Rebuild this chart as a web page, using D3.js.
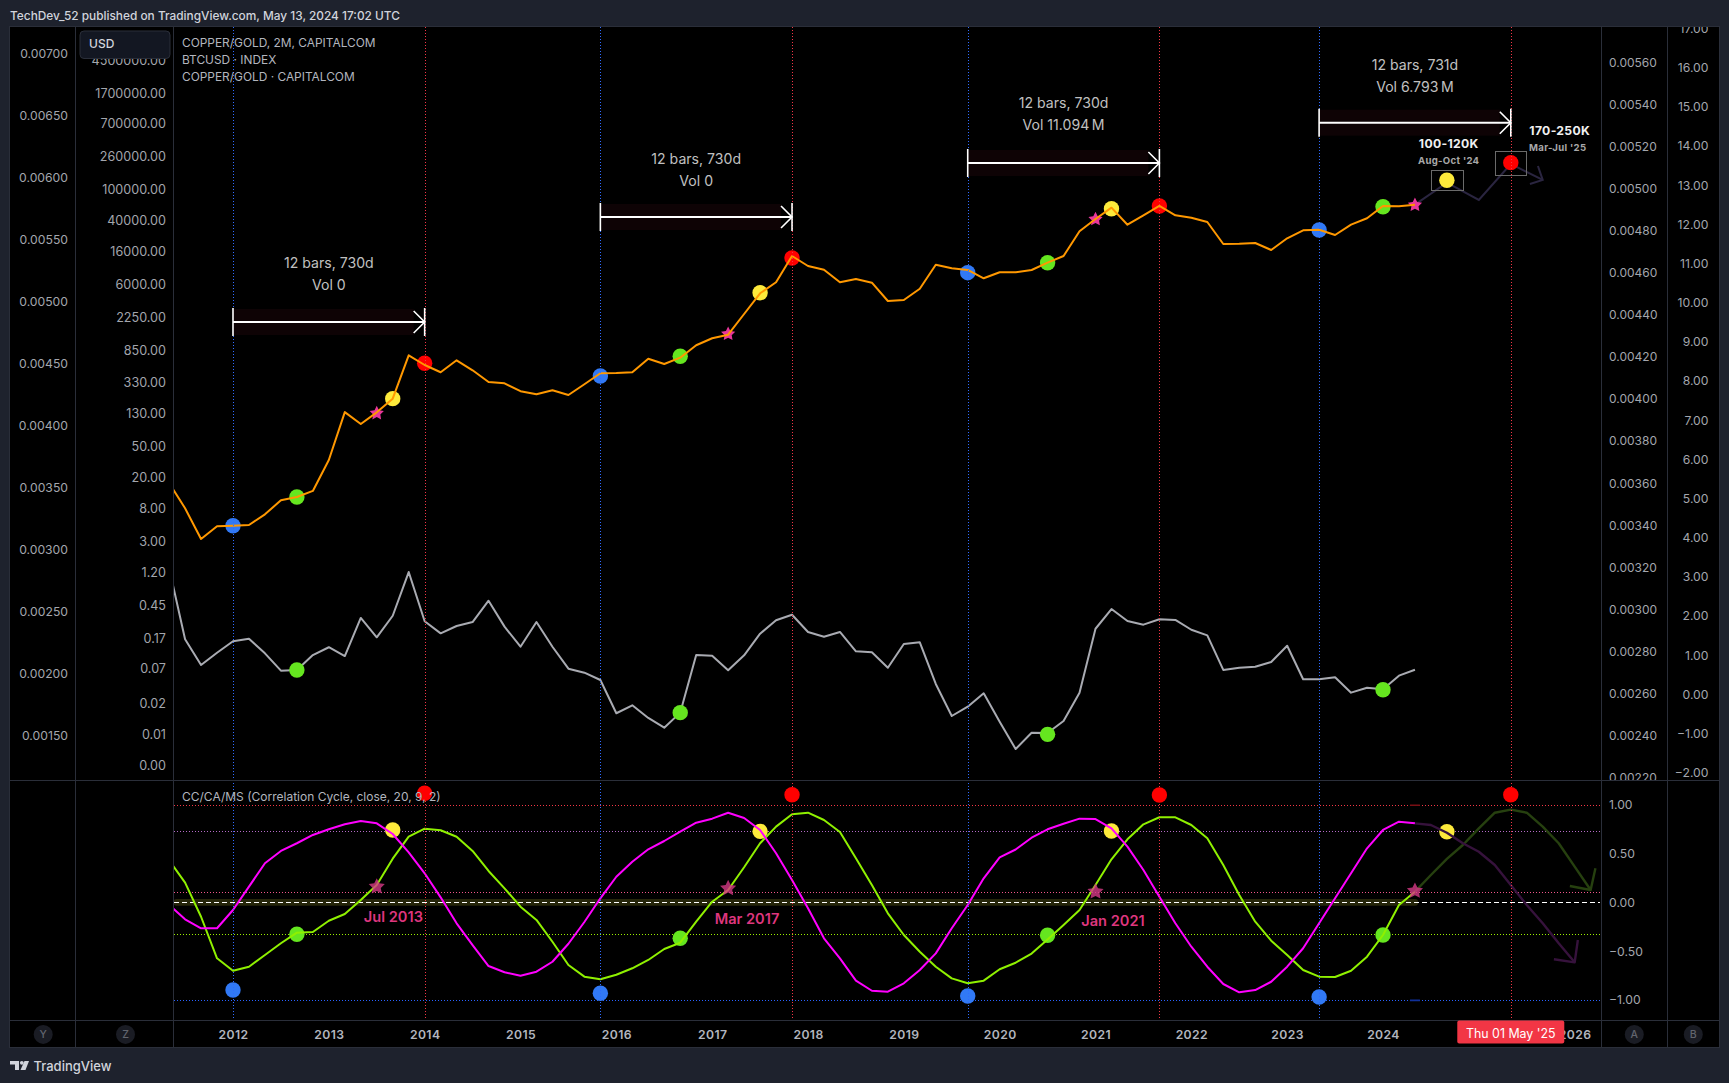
<!DOCTYPE html>
<html><head><meta charset="utf-8">
<script src="https://cdn.jsdelivr.net/npm/d3@7/dist/d3.min.js"></script>
<style>
html,body{margin:0;padding:0;background:#1e222d;overflow:hidden}
text{font-family:Inter,"Noto Sans",sans-serif}
</style></head><body><div id="chart"></div>
<script>
// ---- data (bar index: one bar = two months, 0 = Jan 2012) ----
const firstBar = -4;
const btcusd = [16.8,7.96,3.21,4.67,
 4.75,4.85,6.66,10.08,11.1,13.3,33.2,137,96.3,136,204,735,
 552,445,634,472,334,321,254,232,261,227,312,432,
 436,445,665,568,685,989,1216,1353,2495,4603,6376,13880,
 10325,9255,6376,7028,6300,3666,3776,5274,10730,9645,9173,7175,
 8570,8570,9173,11380,13880,28820,41480,57940,35030,46270,60930,46270,
 43100,37950,19800,19970,20390,16580,23430,29690,30220,25840,35030,42340,
 60930,60390,63320];
const copperGold = [.002853,.002278,.002071,.002170,
 .002262,.002283,.002165,.002025,.002031,.002151,.002214,.002143,.002450,.002294,.002468,.002820,
 .002423,.002326,.002385,.002417,.002589,.002380,.002218,.002417,.002218,.002041,.002009,.001950,
 .001682,.001746,.001644,.001566,.001687,.002151,.002146,.002028,.002149,.002323,.002431,.002476,
 .002337,.002299,.002337,.002181,.002173,.002049,.002240,.002254,.001918,.001660,.001735,.001843,
 .001614,.001394,.001525,.001523,.001620,.001848,.002363,.002522,.002425,.002396,.002439,.002434,
 .002355,.002310,.002031,.002049,.002057,.002095,.002226,.001956,.001956,.001972,.001848,.001888,
 .001875,.001985,.002033];
const ccLine = [.430,.201,-.148,-.574,
 -.701,-.660,-.540,-.420,-.311,-.304,-.189,-.120,.024,.177,.447,.672,
 .754,.738,.672,.526,.321,.143,-.045,-.181,-.404,-.642,-.762,-.789,
 -.742,-.676,-.591,-.478,-.414,-.199,.006,.126,.359,.605,.775,.902,
 .918,.843,.720,.451,.177,-.113,-.335,-.506,-.660,-.779,-.830,-.803,
 -.686,-.619,-.525,-.381,-.233,-.079,.177,.441,.645,.799,.871,.871,
 .792,.656,.382,.075,-.199,-.393,-.540,-.694,-.762,-.765,-.701,-.557,
 -.335,-.028,.109];
const caLine = [-.026,-.174,-.266,-.266,
 -.079,.160,.400,.526,.605,.690,.748,.799,.833,.809,.700,.512,
 .297,.051,-.215,-.438,-.653,-.717,-.752,-.711,-.609,-.425,-.202,.041,
 .262,.416,.543,.628,.723,.816,.857,.918,.864,.741,.502,.228,
 -.061,-.369,-.574,-.803,-.906,-.916,-.830,-.694,-.523,-.266,-.028,.246,
 .461,.541,.662,.748,.805,.857,.853,.758,.570,.331,.057,-.215,
 -.455,-.660,-.837,-.922,-.899,-.814,-.660,-.471,-.215,.041,.297,.553,
 .741,.826,.809];
// projected paths: [bar, value]
const btcProjection = [[74,63320],[76,121400],[78,72780],[80,211100],[82,131500]];
const btcArrowArms = [[[81.7,198900],[82,131500],[81.2,116800]]];
const ccProjection = [[74,.109],[75,.280],[76,.444],[77,.587],[78,.758],[79,.918],[80,.949],[81,.918],[82,.775],[83,.605],[84,.365],[85,.126]];
const ccArrow = [[85.3,.348],[85,.126],[83.7,.167]];
const caProjection = [[74,.809],[75,.792],[76,.713],[77,.605],[78,.518],[79,.382],[80,.177],[81,-.028],[82,-.215],[83,-.420],[84,-.615]];
const caArrow = [[84.2,-.386],[84,-.615],[82.7,-.584]];
// cycle bars
const blueBars = [0,23,46,68];
const redBars = [12,35,58,80];
// dots: [bar, value]
const btcBlue = [[0,4.75],[23,399],[46,8470],[68,29950]];
const btcGreen = [[4,11.1],[28,714],[51,11380],[72,59680]];
const btcYellow = [[10,204],[33,4687],[55,56250],[76,130300]];
const btcRed = [[12,580],[35,13080],[58,60930],[80,219400]];
const btcStars = [[9,132],[31,1381],[54,41110],[74,62750]];
const cgGreen = [[4,.002031],[28,.001687],[51,.001512],[72,.001872]];
const oscRed = [[12,1.117],[35,1.102],[58,1.099],[80,1.102]];
const oscYellow = [[10,.741],[33,.727],[55,.730],[76,.723]];
const oscGreen = [[4,-.328],[28,-.369],[51,-.338],[72,-.335]];
const oscBlue = [[0,-.899],[23,-.932],[46,-.960],[68,-.970]];
const oscStars = [[9,.160],[31,.143],[54,.109],[74,.116]];
const oscStarLabels = [[9,"Jul 2013",393.4,917],[31,"Mar 2017",747,919],[54,"Jan 2021",1113,921]];
// axes
const yearTicks = [0,6,12,18,24,30,36,42,48,54,60,66,72,84];
const yearLabels = ["2012","2013","2014","2015","2016","2017","2018","2019","2020","2021","2022","2023","2024","2026"];
const cgTicks = [.007,.0065,.006,.0055,.005,.0045,.004,.0035,.003,.0025,.002,.0015];
const btcTicks = [4500000,1700000,700000,260000,100000,40000,16000,6000,2250,850,330,130,50,20,8,3,1.2,.45,.17,.07,.0246,.0098,.004];
const rightTicksA = [.0056,.0054,.0052,.005,.0048,.0046,.0044,.0042,.004,.0038,.0036,.0034,.0032,.003,.0028,.0026,.0024,.0022];
const rightTicksB = [17,16,15,14,13,12,11,10,9,8,7,6,5,4,3,2,1,0,-1,-2];
const oscTicks = [1,.5,0,-.5,-1];
const oscLevels = [[1,"#f23645"],[.727,"#b26ac6"],[.109,"#f0558a"],[-.328,"#9bf000"],[-1,"#2962ff"]];
// rulers: [fromBar, toBar, lines]
const rulers = [
 {a:0,b:12,vy:322,t:["12 bars, 730d","Vol 0"],ty:[263.3,285]},
 {a:23,b:35,vy:217,t:["12 bars, 730d","Vol 0"],ty:[159,181]},
 {a:46,b:58,vy:163,t:["12 bars, 730d","Vol 11.094\u2009M"],ty:[103.3,125.4]},
 {a:68,b:80,vy:122.7,t:["12 bars, 731d","Vol 6.793\u2009M"],ty:[64.7,87.3]}];

// ---- layout ----
const W=1729,H=1083, L=10,R=1719,T=27,B=1047, colA=75.5,colB=173.5,colC=1601.5,colD=1667.5, paneY=780.5,timeY=1020.5;
const svg=d3.select("#chart").append("svg").attr("width",W).attr("height",H).style("display","block");
const defs=svg.append("defs");
defs.append("clipPath").attr("id","cm").append("rect").attr("x",colB).attr("y",T).attr("width",colC-colB).attr("height",paneY-T);
defs.append("clipPath").attr("id","co").append("rect").attr("x",colB).attr("y",paneY).attr("width",colC-colB).attr("height",timeY-paneY);
defs.append("clipPath").attr("id","ca").append("rect").attr("x",L).attr("y",T).attr("width",R-L).attr("height",paneY-T);

const x=d3.scaleLinear().domain([0,72]).range([233,1383]);
const yBtc=d3.scaleLog().domain([1,1e6]).range([578.4,111.4]);
const yCg=d3.scaleLinear().domain([.0015,.007]).range([735.85,53.3]);
const yR1=d3.scaleLinear().domain([.0022,.0056]).range([777.5,62.7]);
const yR2=d3.scaleLinear().domain([-2,16]).range([772.7,67.7]);
const yOsc=d3.scaleLinear().domain([-1,1]).range([999.9,804.7]);

svg.append("rect").attr("width",W).attr("height",H).attr("fill","#1e222d");
svg.append("rect").attr("x",L).attr("y",T).attr("width",R-L).attr("height",B-T).attr("fill","#000");

const indexed=a=>a.map((v,k)=>[k+firstBar,v]);
const mk=y=>d3.line().x(d=>x(d[0])).y(d=>y(d[1]));
const main=svg.append("g").attr("clip-path","url(#cm)");
const osc=svg.append("g").attr("clip-path","url(#co)");

// vertical cycle lines
[[blueBars,"#2f6bff"],[redBars,"#f23645"]].forEach(([bars,c])=>{
  svg.append("g").selectAll("line").data(bars).join("line")
   .attr("x1",d=>Math.round(x(d))+.5).attr("x2",d=>Math.round(x(d))+.5).attr("y1",T).attr("y2",timeY)
   .attr("stroke",c).attr("stroke-width",1).attr("stroke-dasharray","1 2").attr("shape-rendering","crispEdges");
});

// rulers
rulers.forEach(r=>{
  const x0=x(r.a),x1=x(r.b),y=r.vy,g=svg.append("g");
  g.append("rect").attr("x",x0).attr("y",y-13).attr("width",x1-x0-11).attr("height",26).attr("fill","#0e0305");
  g.append("line").attr("x1",x0).attr("x2",x1).attr("y1",y).attr("y2",y).attr("stroke","#fff").attr("stroke-width",2);
  [x0,x1].forEach(px=>g.append("line").attr("x1",px).attr("x2",px).attr("y1",y-14).attr("y2",y+14).attr("stroke","#fff").attr("stroke-width",1.6));
  g.append("path").attr("d",`M${x1-11},${y-11}L${x1},${y}L${x1-11},${y+11}`).attr("fill","none").attr("stroke","#fff").attr("stroke-width",1.6);
  r.t.forEach((s,k)=>g.append("text").attr("x",(x0+x1)/2).attr("y",r.ty[k]).attr("dy",".36em").attr("text-anchor","middle").attr("fill","#c0c0c0").attr("font-size",14.1).text(s));
});

// annotation boxes
[[1431.5,170.5,32,20],[1495.5,151.5,31,24]].forEach(b=>svg.append("rect").attr("x",b[0]).attr("y",b[1]).attr("width",b[2]).attr("height",b[3]).attr("fill","none").attr("stroke","#6a6a6a"));

// main pane series
const dots=(g,data,y,c,r=7.7)=>g.append("g").selectAll("circle").data(data).join("circle").attr("cx",d=>x(d[0])).attr("cy",d=>y(d[1])).attr("r",r).attr("fill",c);
const starType={draw(ctx,size){const R0=Math.sqrt(size);for(let k=0;k<10;k++){const r=k%2?R0*.5:R0,a=-Math.PI/2+k*Math.PI/5,px=r*Math.cos(a),py=r*Math.sin(a);k?ctx.lineTo(px,py):ctx.moveTo(px,py);}ctx.closePath();}};
const stars=(g,data,y,c,size,op=1)=>g.append("g").selectAll("path").data(data).join("path").attr("d",d3.symbol(starType,size)()).attr("transform",d=>`translate(${x(d[0])},${y(d[1])})`).attr("fill",c).attr("opacity",op);

main.append("path").datum(indexed(copperGold)).attr("d",mk(yCg)).attr("fill","none").attr("stroke","#a9abb2").attr("stroke-width",2).attr("stroke-linejoin","round");
dots(main,cgGreen,yCg,"#65e61f");
main.append("path").datum(btcProjection).attr("d",mk(yBtc)).attr("fill","none").attr("stroke","#2a2540").attr("stroke-width",2);
btcArrowArms.forEach(a=>main.append("path").datum(a).attr("d",mk(yBtc)).attr("fill","none").attr("stroke","#2a2540").attr("stroke-width",2));
dots(main,btcBlue,yBtc,"#3179f5");
dots(main,btcGreen,yBtc,"#65e61f");
dots(main,btcYellow,yBtc,"#fdea3b");
dots(main,btcRed,yBtc,"#ff0000");
stars(main,btcStars,yBtc,"#e8369a",56);
main.append("path").datum(indexed(btcusd)).attr("d",mk(yBtc)).attr("fill","none").attr("stroke","#ff9800").attr("stroke-width",2).attr("stroke-linejoin","round");

// oscillator pane
osc.append("rect").attr("x",colB).attr("y",yOsc(.035)).attr("width",x(74.2)-colB).attr("height",yOsc(-.035)-yOsc(.035)).attr("rx",3).attr("fill","#26260a");
osc.selectAll("line.lv").data(oscLevels).join("line").attr("class","lv").attr("x1",colB).attr("x2",colC).attr("y1",d=>Math.round(yOsc(d[0]))+.5).attr("y2",d=>Math.round(yOsc(d[0]))+.5).attr("stroke",d=>d[1]).attr("stroke-width",1).attr("stroke-dasharray","1 2").attr("shape-rendering","crispEdges");
osc.append("line").attr("x1",colB).attr("x2",colC-2).attr("y1",Math.round(yOsc(0))+.5).attr("y2",Math.round(yOsc(0))+.5).attr("stroke","#fff").attr("stroke-width",1).attr("stroke-dasharray","5 3").attr("shape-rendering","crispEdges");
[[1,"#7a0f14"],[-1,"#10309a"]].forEach(d=>osc.append("line").attr("x1",x(74)-5).attr("x2",x(74)+5).attr("y1",yOsc(d[0])+.5).attr("y2",yOsc(d[0])+.5).attr("stroke",d[1]).attr("stroke-width",1.6));

dots(osc,oscYellow,yOsc,"#fdea3b");
dots(osc,oscGreen,yOsc,"#65e61f");
dots(osc,oscBlue,yOsc,"#3179f5");
const ccC="#8ff000",caC="#ff00ff";
osc.append("path").datum(indexed(ccLine)).attr("d",mk(yOsc)).attr("fill","none").attr("stroke",ccC).attr("stroke-width",2).attr("stroke-linejoin","round");
osc.append("path").datum(indexed(caLine)).attr("d",mk(yOsc)).attr("fill","none").attr("stroke",caC).attr("stroke-width",2).attr("stroke-linejoin","round");
[[ccProjection,"#26400f"],[ccArrow,"#26400f"],[caProjection,"#36123c"],[caArrow,"#36123c"]].forEach(([d,c])=>
  osc.append("path").datum(d).attr("d",mk(yOsc)).attr("fill","none").attr("stroke",c).attr("stroke-width",2.4).attr("stroke-linejoin","round"));
dots(svg,oscRed,yOsc,"#ff0000");
stars(osc,oscStars,yOsc,"#d63a86",72,.8);
oscStarLabels.forEach(d=>osc.append("text").attr("x",d[2]).attr("y",d[3]).attr("dy",".36em").attr("text-anchor","middle").attr("font-size",14.6).attr("font-weight",600).attr("fill","#de367e").text(d[1]));

// axes
const styleAxis=(g,size=12.2)=>{g.select(".domain").remove();g.selectAll(".tick line").remove();g.selectAll("text").attr("fill","#a3a6ad").attr("font-size",size).style("font-family","Inter,sans-serif");};
const minus=s=>s.replace("-","\u2212");
svg.append("g").attr("transform",`translate(68,0)`).call(d3.axisLeft(yCg).tickValues(cgTicks).tickSize(0).tickPadding(0).tickFormat(d3.format(".5f"))).call(styleAxis);
svg.append("g").attr("transform",`translate(166,0)`).call(d3.axisLeft(yBtc).tickValues(btcTicks).tickSize(0).tickPadding(0).tickFormat(d3.format(".2f"))).call(g=>styleAxis(g,12.6));
svg.append("g").attr("clip-path","url(#ca)").append("g").attr("transform",`translate(1609,0)`).call(d3.axisRight(yR1).tickValues(rightTicksA).tickSize(0).tickPadding(0).tickFormat(d3.format(".5f"))).call(g=>styleAxis(g,12));
svg.append("g").attr("clip-path","url(#ca)").append("g").attr("transform",`translate(1708.5,0)`).call(d3.axisLeft(yR2).tickValues(rightTicksB).tickSize(0).tickPadding(0).tickFormat(d=>minus(d3.format(".2f")(d)))).call(styleAxis);
svg.append("g").attr("transform",`translate(1609,0)`).call(d3.axisRight(yOsc).tickValues(oscTicks).tickSize(0).tickPadding(0).tickFormat(d=>minus(d3.format(".2f")(d)))).call(styleAxis);
const tAxis=svg.append("g").attr("transform",`translate(0,${timeY+10})`).call(d3.axisBottom(x).tickValues(yearTicks).tickSize(0).tickPadding(0).tickFormat((d,k)=>yearLabels[k])).call(styleAxis);
tAxis.selectAll("text").attr("fill","#b2b5be").attr("font-weight",600).attr("letter-spacing",".4px");

// pane separators
const sep="#2a2e39";
[[colA,T,colA,B],[colB,T,colB,B],[colC,T,colC,B],[colD,T,colD,B],[L,paneY,R,paneY],[L,timeY,R,timeY]].forEach(s=>
  svg.append("line").attr("x1",s[0]).attr("y1",s[1]).attr("x2",s[2]).attr("y2",s[3]).attr("stroke",sep));
svg.append("rect").attr("x",L-.5).attr("y",T-.5).attr("width",R-L+1).attr("height",B-T+1).attr("fill","none").attr("stroke","#2a2e39");

// time tag
svg.append("rect").attr("x",x(80)-53.5).attr("y",timeY).attr("width",107).attr("height",23).attr("rx",2).attr("fill","#f23645");
svg.append("text").attr("x",x(80)).attr("y",1033.5).attr("dy",".36em").attr("text-anchor","middle").attr("fill","#fff").attr("font-size",12.4).text("Thu 01 May '25");

// scale buttons
[["Y",43.2],["Z",125.5],["A",1634.3],["B",1693.3]].forEach(d=>{
  svg.append("circle").attr("cx",d[1]).attr("cy",1034.4).attr("r",9.5).attr("fill","#1a1c24");
  svg.append("text").attr("x",d[1]).attr("y",1034.4).attr("dy",".36em").attr("text-anchor","middle").attr("font-size",10.5).attr("font-weight",500).attr("fill","#62656e").text(d[0]);
});

// USD button
svg.append("rect").attr("x",80).attr("y",31).attr("width",90).attr("height",27.5).attr("rx",4).attr("fill","#131722").attr("stroke","#2a2e39");
svg.append("text").attr("x",89).attr("y",43.7).attr("dy",".36em").attr("font-size",12).attr("font-weight",500).attr("fill","#d1d4dc").text("USD");

// legends
["COPPER/GOLD, 2M, CAPITALCOM","BTCUSD \u00b7 INDEX","COPPER/GOLD \u00b7 CAPITALCOM"].forEach((s,k)=>
 svg.append("text").attr("x",182).attr("y",42.5+17*k).attr("dy",".36em").attr("font-size",11.9).attr("fill","#b2b5be").text(s));
svg.append("text").attr("x",182).attr("y",796.7).attr("dy",".36em").attr("font-size",12).attr("fill","#b2b5be").text("CC/CA/MS (Correlation Cycle, close, 20, 9, 2)");

// target notes
[["100-120K",1448.7,144,12.2,700,"#f0f0f0"],["Aug-Oct '24",1448.7,160.7,9.6,700,"#a8a8a8"],["170-250K",1559.7,130.7,12.2,700,"#f0f0f0"],["Mar-Jul '25",1557.7,147.3,9.6,700,"#a8a8a8"]].forEach(d=>
 svg.append("text").attr("x",d[1]).attr("y",d[2]).attr("dy",".36em").attr("text-anchor","middle").attr("font-size",d[3]).attr("font-weight",d[4]).attr("letter-spacing",".3px").attr("fill",d[5]).text(d[0]));

// header and footer
svg.append("text").attr("x",10).attr("y",15.7).attr("dy",".36em").attr("font-size",11.87).attr("font-weight",500).attr("fill","#d1d4dc").text("TechDev_52 published on TradingView.com, May 13, 2024 17:02 UTC");
const logo=svg.append("g").attr("fill","#d1d4dc");
logo.append("path").attr("d","M10,1061H19V1070H15V1064.5H10Z");
logo.append("circle").attr("cx",21.8).attr("cy",1062.8).attr("r",1.9);
logo.append("path").attr("d","M24.5,1061H29L25.5,1070H20.5Z");
svg.append("text").attr("x",33.5).attr("y",1066.7).attr("dy",".36em").attr("font-size",13).attr("font-weight",500).attr("fill","#d1d4dc").text("TradingView");
</script></body></html>
